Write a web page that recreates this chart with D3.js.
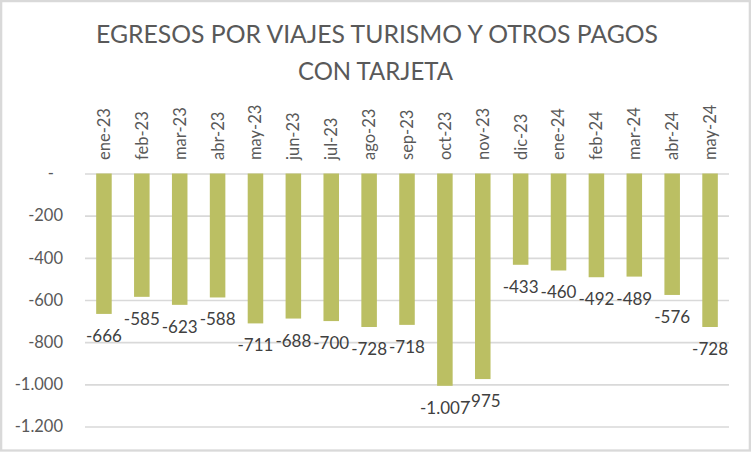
<!DOCTYPE html>
<html>
<head>
<meta charset="utf-8">
<script src="https://cdn.jsdelivr.net/npm/d3@7/dist/d3.min.js"></script>
<style>
  html, body { margin: 0; padding: 0; background: #fff; }
  svg { display: block; font-family: Lato, "Open Sans", sans-serif; }
</style>
</head>
<body>
<svg id="chart" width="752" height="452"></svg>
<script>
// ---- data ----
const titleLines = ["EGRESOS POR VIAJES TURISMO Y OTROS PAGOS", "CON TARJETA"];
const categories = ["ene-23","feb-23","mar-23","abr-23","may-23","jun-23","jul-23","ago-23","sep-23","oct-23","nov-23","dic-23","ene-24","feb-24","mar-24","abr-24","may-24"];
const values = [-666,-585,-623,-588,-711,-688,-700,-728,-718,-1007,-975,-433,-460,-492,-489,-576,-728];
const yTicks = [0,-200,-400,-600,-800,-1000,-1200];

// ---- layout ----
const W = 752, H = 452;
const plot = { left: 85, right: 729, top: 173.5, bottom: 426.5 };

const locale = d3.formatLocale({ decimal: ",", thousands: ".", grouping: [3], currency: ["", ""], minus: "-" });
const fmt = locale.format(",d");
const tickFmt = v => v === 0 ? "-" : fmt(v);

const svg = d3.select("#chart");

// border
svg.append("rect")
  .attr("x", 1.15).attr("y", 1.1).attr("width", W - 3.3).attr("height", H - 2.6)
  .attr("fill", "#fff").attr("stroke", "#D9D9D9").attr("stroke-width", 2.3);

const x = d3.scaleBand().domain(categories).range([plot.left, plot.right])
  .paddingInner(0.59).paddingOuter(0.295);
const y = d3.scaleLinear().domain([-1200, 0]).range([plot.bottom, plot.top]);

// title
svg.append("text")
  .attr("x", 96).attr("y", 43)
  .attr("textLength", 562).attr("lengthAdjust", "spacingAndGlyphs")
  .attr("font-size", 25).attr("fill", "#595959")
  .text(titleLines[0]);
svg.append("text")
  .attr("x", 298).attr("y", 80)
  .attr("textLength", 155).attr("lengthAdjust", "spacingAndGlyphs")
  .attr("font-size", 25).attr("fill", "#595959")
  .text(titleLines[1]);

// y axis with gridlines
const yAxis = svg.append("g")
  .attr("transform", `translate(${plot.left},0)`)
  .call(d3.axisLeft(y).tickValues(yTicks).tickFormat(tickFmt)
    .tickSize(-(plot.right - plot.left)).tickPadding(22));
yAxis.select(".domain").remove();
yAxis.selectAll(".tick line").attr("stroke", "#D9D9D9").attr("stroke-width", 1.6);
yAxis.selectAll(".tick text")
  .attr("font-size", 16.5).attr("fill", "#595959")
  .attr("font-family", "Lato, 'Open Sans', sans-serif")
  .attr("dx", d => d === 0 ? -9 : 0);

// bars
svg.append("g").selectAll("rect")
  .data(categories)
  .join("rect")
  .attr("x", d => x(d))
  .attr("width", x.bandwidth())
  .attr("y", y(0))
  .attr("height", (d, i) => y(values[i]) - y(0))
  .attr("fill", "#BBBF63");

// category labels (top)
const xAxis = svg.append("g")
  .attr("transform", `translate(0,${plot.top})`)
  .call(d3.axisTop(x).tickSize(0).tickPadding(0));
xAxis.select(".domain").remove();
xAxis.selectAll(".tick text")
  .attr("font-size", 16.5).attr("fill", "#595959")
  .attr("font-family", "Lato, 'Open Sans', sans-serif")
  .attr("text-anchor", "start")
  .attr("transform", "rotate(-90)")
  .attr("x", 13.5).attr("y", 0).attr("dy", "0.36em");

// data labels
svg.append("g").selectAll("text")
  .data(categories)
  .join("text")
  .attr("x", d => x(d) + x.bandwidth() / 2)
  .attr("y", (d, i) => y(values[i]) + 28)
  .attr("text-anchor", "middle")
  .attr("font-size", 17).attr("fill", "#404040")
  .text((d, i) => fmt(values[i]));
</script>
</body>
</html>
